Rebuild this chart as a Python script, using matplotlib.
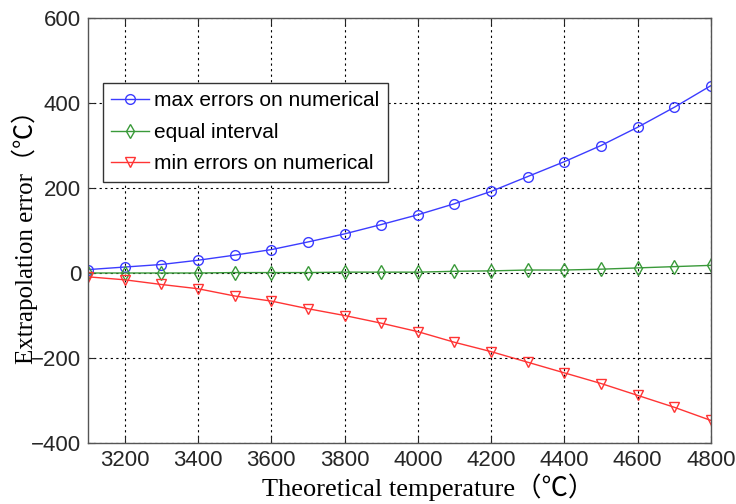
import matplotlib
matplotlib.use("Agg")
import matplotlib.pyplot as plt

temps = [3100, 3200, 3300, 3400, 3500, 3600, 3700, 3800, 3900, 4000,
         4100, 4200, 4300, 4400, 4500, 4600, 4700, 4800]
max_err = [8, 14, 20, 30, 42, 55, 73, 92, 114, 137,
           163, 192, 227, 262, 300, 343, 390, 441]
equal_int = [0, 0, 0, 0, 1, 1, 1, 2, 2, 2,
             4, 5, 7, 7, 9, 12, 15, 18]
min_err = [-9, -16, -27, -37, -54, -66, -84, -100, -118, -138,
           -163, -185, -210, -235, -260, -288, -316, -347]

labels = ["max errors on numerical", "equal interval", "min errors on numerical"]
xticks = [3200, 3400, 3600, 3800, 4000, 4200, 4400, 4600, 4800]
yticks = [-400, -200, 0, 200, 400, 600]

fig = plt.figure(figsize=(7.36, 5.04), dpi=100)
ax = fig.add_axes([88/736, 1 - 443/504, (711-88)/736, (443-18)/504])

ax.plot(temps, max_err, color="#3c3cff", lw=1.0, marker="o", ms=7,
        mfc="none", mec="#3c3cff", mew=1.0, label=labels[0])
ax.plot(temps, equal_int, color="#3a9a3a", lw=1.0, marker="d", ms=7,
        mfc="none", mec="#3a9a3a", mew=1.0, label=labels[1])
ax.plot(temps, min_err, color="#ff3434", lw=1.0, marker="v", ms=7,
        mfc="none", mec="#ff3434", mew=1.0, label=labels[2])

ax.set_xlim(3100, 4800)
ax.set_ylim(-400, 600)
ax.set_xticks(xticks)
ax.set_yticks(yticks)
ax.grid(True, color="black", linestyle=(0, (2, 3)), linewidth=0.8)
ax.set_axisbelow(True)
ax.tick_params(direction="in", top=True, right=True, length=5,
               labelsize=16, colors="#262626", pad=5)
for lab in ax.get_xticklabels() + ax.get_yticklabels():
    lab.set_fontfamily("Liberation Sans")
for s in ax.spines.values():
    s.set_color("#555555")
    s.set_linewidth(1.0)

serif = ["Liberation Serif", "Noto Sans CJK SC"]
ax.set_xlabel("Theoretical temperature（℃）", family=serif, fontsize=19)
ax.xaxis.set_label_coords(0.546, -0.072)
ax.set_ylabel("Extrapolation error（℃）", family=serif, fontsize=18)
ax.yaxis.set_label_coords(-0.08, 0.5)

leg = ax.legend(loc="upper left", bbox_to_anchor=(0.024, 0.847), borderaxespad=0,
                prop={"family": "Liberation Sans", "size": 15}, fancybox=False,
                framealpha=1, edgecolor="#333333", handlelength=1.8,
                handletextpad=0.25, labelspacing=0.6, borderpad=0.4)
leg.get_frame().set_linewidth(1.0)

fig.savefig("out.png", dpi=100)
